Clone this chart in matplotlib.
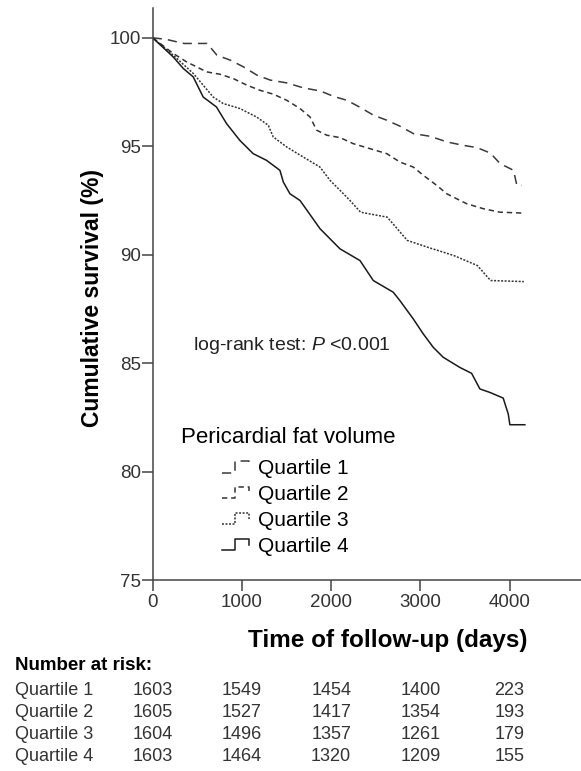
import numpy as np
import matplotlib
matplotlib.use("Agg")
import matplotlib.pyplot as plt
from matplotlib.lines import Line2D
from matplotlib.legend_handler import HandlerBase

plt.rcParams["font.family"] = ["Liberation Sans", "DejaVu Sans"]
plt.rcParams["mathtext.fontset"] = "custom"
plt.rcParams["mathtext.rm"] = "Liberation Sans"
plt.rcParams["mathtext.it"] = "Liberation Sans:italic"

# survival curves (days, cumulative survival %)
q1_days = [0, 150, 350, 610, 720, 870, 1018, 1168, 1318, 1505, 1690, 1878, 2027, 2176, 2326,
           2475, 2624, 2774, 2923, 3110, 3297, 3484, 3633, 3782, 3894, 4044, 4081, 4137]
q1_surv = [100, 99.93, 99.74, 99.74, 99.2, 98.97, 98.66, 98.28, 98.05, 97.92, 97.69, 97.55,
           97.3, 97.12, 96.79, 96.43, 96.2, 95.92, 95.58, 95.46, 95.2, 95.04, 94.94, 94.69,
           94.2, 93.89, 93.2, 93.2]

q2_days = [0, 230, 380, 605, 755, 904, 1054, 1203, 1353, 1502, 1651, 1763, 1838, 1950,
           2099, 2248, 2435, 2623, 2772, 2921, 3033, 3182, 3295, 3519, 3706, 3892, 4137]
q2_surv = [100, 99.28, 98.89, 98.43, 98.32, 98.12, 97.82, 97.58, 97.4, 97.12, 96.74,
           96.35, 95.74, 95.51, 95.4, 95.12, 94.89, 94.66, 94.27, 94.04, 93.66, 93.2,
           92.81, 92.35, 92.12, 91.96, 91.92]

q3_days = [0, 230, 454, 678, 790, 977, 1164, 1295, 1351, 1501, 1688, 1875, 1987, 2099,
           2211, 2330, 2629, 2853, 3077, 3376, 3638, 3787, 4160]
q3_surv = [100, 99.2, 98.36, 97.27, 96.97, 96.74, 96.35, 95.97, 95.43, 94.97, 94.5,
           94.04, 93.43, 92.97, 92.5, 91.96, 91.73, 90.66, 90.35, 89.96, 89.5, 88.81, 88.76]

q4_days = [0, 230, 342, 454, 566, 715, 827, 977, 1126, 1276, 1426, 1464, 1538, 1651,
           1875, 2099, 2323, 2472, 2696, 2771, 2920, 3032, 3144, 3256, 3443, 3574, 3667,
           3779, 3928, 3985, 4003, 4171]
q4_surv = [100, 99.12, 98.59, 98.2, 97.27, 96.81, 96.05, 95.27, 94.66, 94.35, 93.89,
           93.35, 92.81, 92.5, 91.2, 90.27, 89.73, 88.81, 88.27, 87.88, 87.04, 86.35,
           85.73, 85.27, 84.8, 84.53, 83.81, 83.65, 83.39, 82.65, 82.16, 82.16]

labels = ["Quartile 1", "Quartile 2", "Quartile 3", "Quartile 4"]
risk_times = [0, 1000, 2000, 3000, 4000]
risk_q1 = [1603, 1549, 1454, 1400, 223]
risk_q2 = [1605, 1527, 1417, 1354, 193]
risk_q3 = [1604, 1496, 1357, 1261, 179]
risk_q4 = [1603, 1464, 1320, 1209, 155]


class StepHandler(HandlerBase):
    # small step-shaped legend glyph like the SPSS output
    def create_artists(self, legend, orig_handle, xdescent, ydescent, width, height,
                       fontsize, trans):
        xs = np.array([0.0, 0.4, 0.4, 0.85, 0.85]) * width - xdescent
        ys = np.array([0.1, 0.1, 0.9, 0.9, 0.45]) * height - ydescent
        ln = Line2D(xs, ys)
        ln.update_from(orig_handle)
        ln.set_data(xs, ys)
        ln.set_transform(trans)
        return [ln]


fig = plt.figure(figsize=(5.81, 7.71), dpi=100)
ax = fig.add_axes([0.2628, 0.2477, 0.7372, 0.7415])

styles = [(0, (6, 4)), (0, (3.5, 2.5)), (0, (1.3, 1)), "-"]
colors = ["#3a3a3a", "#333333", "#333333", "#1a1a1a"]
series = [(q1_days, q1_surv), (q2_days, q2_surv), (q3_days, q3_surv), (q4_days, q4_surv)]
handles = []
for (d, s), ls, c, lab in zip(series, styles, colors, labels):
    h, = ax.plot(d, s, linestyle=ls, color=c, lw=1.1, label=lab)
    handles.append(h)

ax.set_xlim(0, 4800)
ax.set_ylim(75, 101.36)
ax.set_xticks(risk_times)
ax.set_yticks([75, 80, 85, 90, 95, 100])
for side in ["top", "right"]:
    ax.spines[side].set_visible(False)
for side in ["left", "bottom"]:
    ax.spines[side].set_color("#444444")
    ax.spines[side].set_linewidth(1.1)
ax.tick_params(axis="both", length=8, width=1.1, color="#444444",
               labelsize=13.5, labelcolor="#333333")
ax.tick_params(axis="y", pad=0.5)
ax.tick_params(axis="x", pad=2)

ax.text(193 / 581, 1 - 350 / 771, r"log-rank test: $\mathit{P}$ <0.001",
        transform=fig.transFigure, fontsize=14, color="#222222", va="baseline")

# legend: title drawn separately so its gap to the entries matches
fig.text(288.5 / 581, 1 - 442.7 / 771, "Pericardial fat volume", fontsize=16,
         ha="center", va="baseline")
leg = ax.legend(handles, labels, handler_map={Line2D: StepHandler()},
                loc="upper left", bbox_to_anchor=(222 / 581, 1 - 459 / 771),
                bbox_transform=fig.transFigure, frameon=False, fontsize=15,
                handlelength=1.5, handletextpad=0.25,
                labelspacing=0.33, borderpad=0, borderaxespad=0)

fig.text(93 / 581, 0.614, "Cumulative survival (%)", rotation=90, fontsize=16.5,
         fontweight="bold", ha="center", va="center")
fig.text(387.5 / 581, 1 - 646.7 / 771, "Time of follow-up (days)", fontsize=17.5,
         fontweight="bold", ha="center", va="baseline")

# number at risk table
fig.text(15 / 581, 1 - 670 / 771, "Number at risk:", fontsize=13.5, fontweight="bold",
         va="baseline")
row_y = [695, 716.9, 738.8, 760.7]
blend = matplotlib.transforms.blended_transform_factory(ax.transData, fig.transFigure)
for lab, counts, yy in zip(labels, [risk_q1, risk_q2, risk_q3, risk_q4], row_y):
    fig.text(15 / 581, 1 - yy / 771, lab, fontsize=13, color="#333333", va="baseline")
    for t, n in zip(risk_times, counts):
        ax.text(t, 1 - yy / 771, str(n), transform=blend, fontsize=13, color="#333333",
                ha="center", va="baseline", clip_on=False)

fig.savefig("out.png", dpi=100)
